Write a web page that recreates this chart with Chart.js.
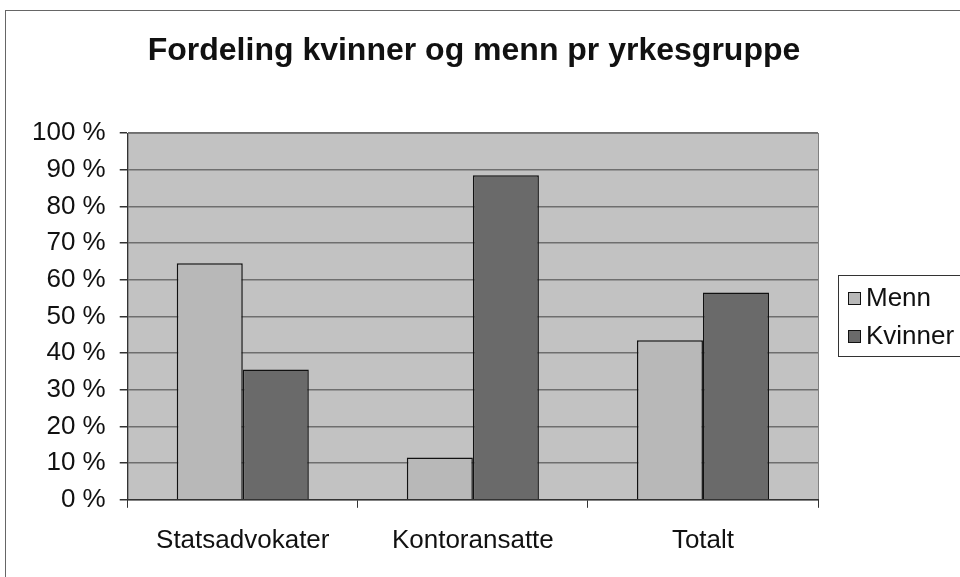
<!DOCTYPE html>
<html>
<head>
<meta charset="utf-8">
<script src="https://cdn.jsdelivr.net/npm/chart.js@4"></script>
<style>
  html, body { margin: 0; padding: 0; background: #fff; }
  #wrap { position: relative; width: 960px; height: 577px; overflow: hidden; }
  #frame { position: absolute; left: 5px; top: 10px; width: 1000px; height: 1000px; border: 1px solid #666; }
  canvas { position: absolute; left: 0; top: 0; }
</style>
</head>
<body>
<div id="wrap">
  <div id="frame"></div>
  <canvas id="myChart" width="960" height="577"></canvas>
</div>
<script>
const chartTitle = "Fordeling kvinner og menn pr yrkesgruppe";
const categories = ["Statsadvokater", "Kontoransatte", "Totalt"];
const menn = [64.5, 11.5, 43.5];
const kvinner = [35.5, 88.5, 56.5];

const mennColor = "#b8b8b8";
const kvinnerColor = "#6a6a6a";
const plotBg = "#c2c2c2";
const font = "'Liberation Sans', Arial, sans-serif";

/* gray plot area */
const plotBackground = {
  id: "plotBackground",
  beforeDraw(chart) {
    const a = chart.chartArea;
    const c = chart.ctx;
    c.save();
    c.fillStyle = plotBg;
    c.fillRect(a.left, a.top, a.right - a.left, a.bottom - a.top);
    c.strokeStyle = "#808080";
    c.lineWidth = 1;
    c.strokeRect(a.left + 0.5, a.top + 0.5, a.right - a.left, a.bottom - a.top);
    c.restore();
  },
};

/* title + legend box, placed like the excel chart */
const excelBits = {
  id: "excelBits",
  afterDraw(chart) {
    const c = chart.ctx;
    c.save();
    c.fillStyle = "#111";
    c.font = "bold 32px " + font;
    c.textAlign = "center";
    c.textBaseline = "middle";
    c.fillText(chartTitle, 474, 51);

    const x = 838, y = 275, w = 130, h = 81;
    c.textAlign = "left";
    c.fillStyle = "#fff";
    c.fillRect(x, y, w, h);
    c.strokeStyle = "#333";
    c.lineWidth = 1;
    c.strokeRect(x + 0.5, y + 0.5, w, h);
    c.font = "26px " + font;
    chart.data.datasets.forEach((ds, i) => {
      const cy = y + 23 + i * 38;
      c.fillStyle = ds.backgroundColor;
      c.fillRect(x + 10, cy - 6, 13, 13);
      c.strokeStyle = "#111";
      c.strokeRect(x + 10.5, cy - 5.5, 12, 12);
      c.fillStyle = "#111";
      c.fillText(ds.label, x + 28, cy + 1);
    });
    c.restore();
  },
};

let ctx = document.getElementById("myChart");

let myChart = new Chart(ctx, {
  type: "bar",
  data: {
    labels: categories,
    datasets: [
      {
        label: "Menn",
        data: menn,
        backgroundColor: mennColor,
        borderColor: "#111",
        borderWidth: 1.5,
      },
      {
        label: "Kvinner",
        data: kvinner,
        backgroundColor: kvinnerColor,
        borderColor: "#111",
        borderWidth: 1.5,
      },
    ],
  },
  options: {
    responsive: false,
    animation: false,
    layout: {
      padding: { left: 18, right: 142, top: 133, bottom: 4 },
    },
    datasets: {
      bar: { categoryPercentage: 0.574, barPercentage: 1 },
    },
    plugins: {
      legend: { display: false },
      tooltip: { enabled: false },
      title: { display: false },
    },
    scales: {
      x: {
        offset: true,
        grid: {
          offset: true,
          drawOnChartArea: false,
          color: "#333",
          tickLength: 8,
        },
        border: { color: "#333", width: 1 },
        ticks: {
          color: "#111",
          font: { family: font, size: 26 },
          padding: 17,
        },
      },
      y: {
        min: 0,
        max: 100,
        ticks: {
          stepSize: 10,
          color: "#111",
          font: { family: font, size: 26 },
          padding: 14,
          callback: (v) => v + " %",
        },
        grid: {
          color: "#6e6e6e",
          lineWidth: 1.5,
          tickLength: 8,
          tickColor: "#333",
        },
        border: { color: "#333", width: 1 },
      },
    },
  },
  plugins: [plotBackground, excelBits],
});
</script>
</body>
</html>
